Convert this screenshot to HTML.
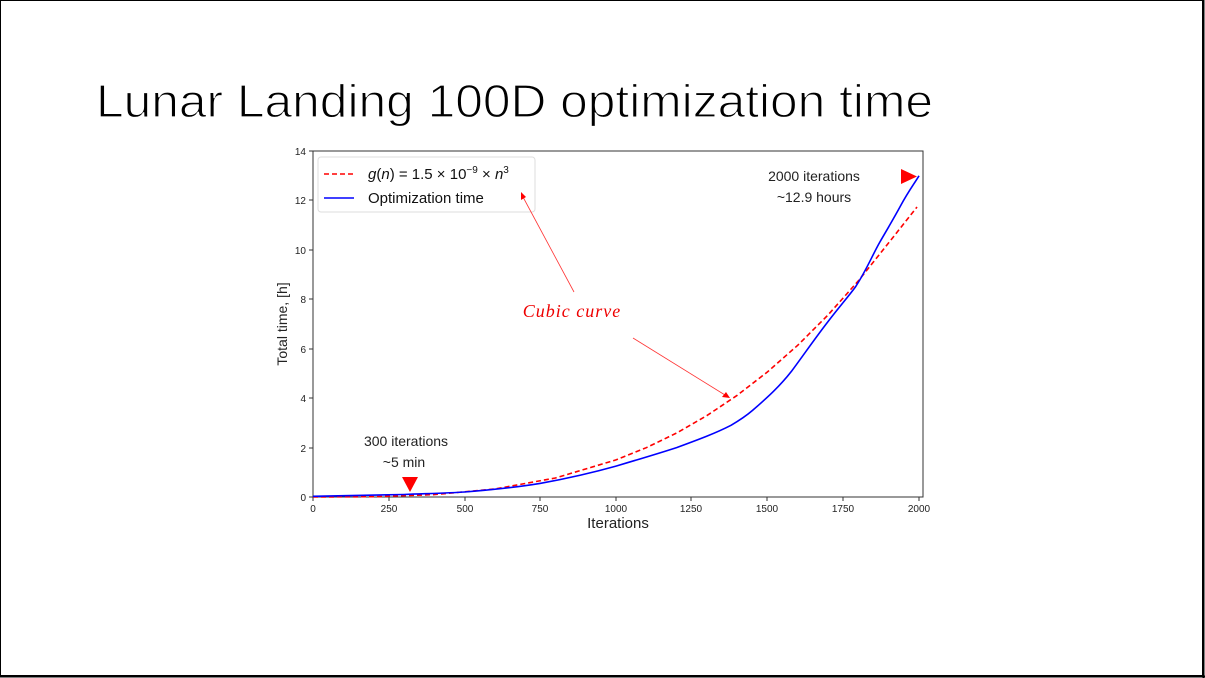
<!DOCTYPE html>
<html><head><style>
html,body{margin:0;padding:0;background:#fff;}
svg{display:block;font-family:"Liberation Sans",sans-serif;}
</style></head><body>
<svg width="1205" height="678" viewBox="0 0 1205 678" xmlns="http://www.w3.org/2000/svg">
<rect x="0" y="0" width="1205" height="678" fill="#fff"/>
<rect x="0.5" y="0.5" width="1202" height="675" fill="none" stroke="#000" stroke-width="1"/>
<line x1="1203.5" y1="0" x2="1203.5" y2="678" stroke="#000" stroke-width="2"/>
<line x1="0" y1="676.5" x2="1205" y2="676.5" stroke="#000" stroke-width="2"/>
<text x="96" y="117" font-size="46" fill="#000" stroke="#fff" stroke-width="1.2" textLength="837" lengthAdjust="spacingAndGlyphs">Lunar Landing 100D optimization time</text>

<!-- axes -->
<rect x="313" y="151" width="610" height="346" fill="none" stroke="#333" stroke-width="1"/>
<g stroke="#333" stroke-width="1">
<line x1="313" y1="497" x2="313" y2="501"/><line x1="389" y1="497" x2="389" y2="501"/><line x1="465" y1="497" x2="465" y2="501"/><line x1="540" y1="497" x2="540" y2="501"/><line x1="616" y1="497" x2="616" y2="501"/><line x1="691" y1="497" x2="691" y2="501"/><line x1="767" y1="497" x2="767" y2="501"/><line x1="843" y1="497" x2="843" y2="501"/><line x1="919" y1="497" x2="919" y2="501"/>
<line x1="309" y1="497" x2="313" y2="497"/><line x1="309" y1="448" x2="313" y2="448"/><line x1="309" y1="398" x2="313" y2="398"/><line x1="309" y1="349" x2="313" y2="349"/><line x1="309" y1="299" x2="313" y2="299"/><line x1="309" y1="250" x2="313" y2="250"/><line x1="309" y1="200" x2="313" y2="200"/><line x1="309" y1="151" x2="313" y2="151"/>
</g>
<g font-size="10" fill="#222" text-anchor="middle">
<text x="313" y="512">0</text><text x="389" y="512">250</text><text x="465" y="512">500</text><text x="540" y="512">750</text><text x="616" y="512">1000</text><text x="691" y="512">1250</text><text x="767" y="512">1500</text><text x="843" y="512">1750</text><text x="919" y="512">2000</text>
</g>
<g font-size="10" fill="#222" text-anchor="end">
<text x="306" y="501">0</text><text x="306" y="452">2</text><text x="306" y="402">4</text><text x="306" y="353">6</text><text x="306" y="303">8</text><text x="306" y="254">10</text><text x="306" y="204">12</text><text x="306" y="155">14</text>
</g>
<text x="618" y="528" font-size="15" fill="#222" text-anchor="middle">Iterations</text>
<text transform="translate(287,324) rotate(-90)" font-size="14" fill="#222" text-anchor="middle">Total time, [h]</text>

<!-- series -->
<polyline fill="none" stroke="#f00" stroke-width="1.6" stroke-dasharray="5,3" points="313,497 373.6,496.7 434.2,494.6 494.8,489 555.4,478 616,459.9 646.3,447.7 676.6,433 706.9,415.6 737.2,395.3 767.5,371.9 797.8,345.2 828.1,314.9 858.4,280.8 888.7,242.8 917,207"/>
<path fill="none" stroke="#00f" stroke-width="1.6" d="M313,496.3 L404,494.5 C430,493.5 450,493 464.5,492 C490,490 515,487.5 540,483.4 C570,478 595,472 616,466.1 C640,459 660,453 676.6,447.6 C700,439 716,433 731,425.3 C740,420 746,416 752.4,410.5 C768,397 780,386 791.7,371 C805,353 816,337 828,321.6 C840,306 848,297 855.4,287 C866,271 872,256 879.6,242.5 C888,228 894,218 900.8,205.4 C908,192 914,184 919,175.8"/>

<!-- legend -->
<rect x="318" y="157" width="217" height="55" rx="3" fill="#fff" stroke="#ddd"/>
<line x1="324" y1="174" x2="354" y2="174" stroke="#f00" stroke-width="1.6" stroke-dasharray="5,3"/>
<line x1="324" y1="198" x2="354" y2="198" stroke="#00f" stroke-width="1.6"/>
<text x="368" y="179" font-size="15" fill="#111"><tspan font-style="italic">g</tspan>(<tspan font-style="italic">n</tspan>) = 1.5 × 10<tspan font-size="10" dy="-6">−9</tspan><tspan dy="6"> × </tspan><tspan font-style="italic">n</tspan><tspan font-size="10" dy="-6">3</tspan></text>
<text x="368" y="203" font-size="15" fill="#111">Optimization time</text>

<!-- annotations -->
<text x="572" y="317" font-size="18" fill="#e00" font-style="italic" font-family="Liberation Serif,serif" text-anchor="middle" letter-spacing="1">Cubic curve</text>
<line x1="574" y1="292" x2="523" y2="197" stroke="#f33" stroke-width="0.8"/>
<polygon points="521,192 521,200 526,197" fill="#f00"/>
<line x1="633" y1="338" x2="725" y2="395" stroke="#f33" stroke-width="0.8"/>
<polygon points="730,398 722,397 726,392" fill="#f00"/>
<polygon points="402,477 418,477 410,492" fill="#f00"/>
<polygon points="901,169 901,184 917,176.5" fill="#f00"/>
<text x="406" y="446" font-size="14" fill="#222" text-anchor="middle">300 iterations</text>
<text x="404" y="467" font-size="14" fill="#222" text-anchor="middle">~5 min</text>
<text x="814" y="181" font-size="14" fill="#222" text-anchor="middle">2000 iterations</text>
<text x="814" y="202" font-size="14" fill="#222" text-anchor="middle">~12.9 hours</text>
</svg>
</body></html>
